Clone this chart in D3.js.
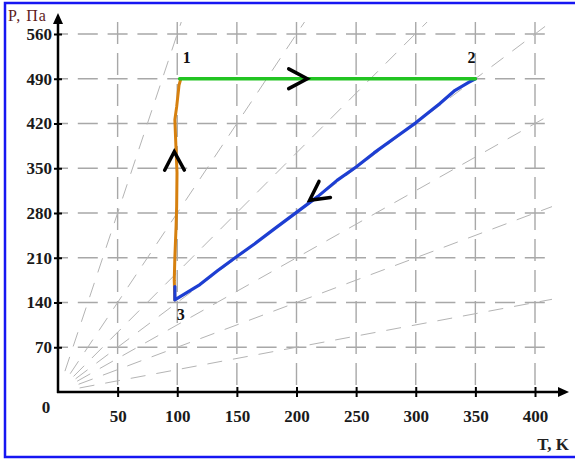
<!DOCTYPE html>
<html>
<head>
<meta charset="utf-8">
<script src="https://cdn.jsdelivr.net/npm/d3@7"></script>
<style>
  html, body { margin: 0; padding: 0; background: #fff; }
  svg { display: block; }
</style>
</head>
<body>
<svg id="chart" width="575" height="459"></svg>
<script>
// ---------- data ----------
const tTicks = [50, 100, 150, 200, 250, 300, 350, 400];
const pTicks = [70, 140, 210, 280, 350, 420, 490, 560];

// process 1 -> 2 (isobaric)
const proc12T = [102, 350];
const proc12P = [490, 490];

// process 2 -> 3 (hand-drawn, along isochore)
const proc23T = [350, 344, 333, 320, 300, 282, 265, 250, 234, 218, 200, 182, 165, 150, 134, 119, 98, 98];
const proc23P = [490, 484, 472, 451, 421, 397, 374, 352, 331, 306, 281, 256, 232, 212, 190, 168, 144, 165];

// process 3 -> 1 (hand-drawn, nearly isothermal)
const proc31T = [98, 97.5, 98, 99, 99.5, 99.8, 99, 98, 99.5, 101.5, 103];
const proc31P = [144, 175, 211, 258, 290, 343, 379, 426, 446, 480, 490];

// background isochores P = k*T
const isochoreSlopes = [5.6, 2.8, 1.87, 1.4, 1.05, 0.7, 0.35];

// state labels
const stateNames = ["1", "2", "3"];
const stateT = [102, 350, 98];
const stateP = [490, 490, 144];

// direction arrows (tip) and a point behind the tip along the path
const arrowTipT = [209, 97.5, 211];
const arrowTipP = [490, 376, 300];
const arrowFromT = [150, 98, 250];
const arrowFromP = [490, 300, 352];

// ---------- drawing ----------
const svg = d3.select("#chart");
const x = d3.scaleLinear().domain([0, 400]).range([58, 535]);
const y = d3.scaleLinear().domain([0, 560]).range([392, 34]);

const plotLeft = 58, plotRight = 552, plotTop = 22, plotBottom = y(0);
const gridColor = "#a8a8a8";

// frame
svg.append("rect")
  .attr("x", 5).attr("y", 3).attr("width", 573).attr("height", 454)
  .attr("fill", "none").attr("stroke", "#1616f2").attr("stroke-width", 2.5);

// clip for diagonal lines
svg.append("defs").append("clipPath").attr("id", "plotclip")
  .append("rect").attr("x", plotLeft).attr("y", plotTop)
  .attr("width", plotRight - plotLeft).attr("height", plotBottom - plotTop);

// grid: vertical
svg.append("g").selectAll("line").data(tTicks).join("line")
  .attr("x1", d => x(d)).attr("x2", d => x(d))
  .attr("y1", plotTop).attr("y2", plotBottom)
  .attr("stroke", gridColor).attr("stroke-width", 1.4)
  .attr("stroke-dasharray", "22,9");

// grid: horizontal
svg.append("g").selectAll("line").data(pTicks).join("line")
  .attr("x1", plotLeft).attr("x2", plotRight)
  .attr("y1", d => y(d)).attr("y2", d => y(d))
  .attr("stroke", gridColor).attr("stroke-width", 1.4)
  .attr("stroke-dasharray", "20,9.8").attr("stroke-dashoffset", 10);

// isochores
const gIso = svg.append("g").attr("clip-path", "url(#plotclip)");
isochoreSlopes.forEach(k => {
  const pxPerT = Math.hypot(x(1) - x(0), y(0) - y(k));
  const t0 = 22 / pxPerT;
  const t1 = Math.min(420, 600 / k);
  gIso.append("line")
    .attr("x1", x(t0)).attr("y1", y(k * t0))
    .attr("x2", x(t1)).attr("y2", y(k * t1))
    .attr("stroke", "#b4b4b4").attr("stroke-width", 1)
    .attr("stroke-dasharray", "15,11");
});

// axes
const fontTick = "'Liberation Serif', 'Times New Roman', serif";
const yAxis = svg.append("g").attr("transform", `translate(${x(0)},0)`)
  .call(d3.axisLeft(y).tickValues(pTicks).tickSize(4).tickPadding(2));
const xAxis = svg.append("g").attr("transform", `translate(0,${y(0)})`)
  .call(d3.axisBottom(x).tickValues(tTicks).tickSize(5).tickPadding(13));
[yAxis, xAxis].forEach(g => {
  g.select(".domain").remove();
  g.selectAll(".tick text")
    .attr("font-family", fontTick).attr("font-size", 17)
    .attr("font-weight", "bold").attr("fill", "#1a1a1a");
  g.selectAll(".tick line").attr("stroke", "#000").attr("stroke-width", 2);
});
yAxis.selectAll(".tick line").attr("x1", 4).attr("x2", -4);
xAxis.selectAll(".tick line").attr("y1", -5).attr("y2", 5);

// axis lines with arrowheads
svg.append("line").attr("x1", x(0)).attr("y1", y(0) + 1)
  .attr("x2", x(0)).attr("y2", 20)
  .attr("stroke", "#000").attr("stroke-width", 2.5);
svg.append("path").attr("d", `M${x(0)},13 L${x(0) - 5},24 L${x(0) + 5},24 Z`).attr("fill", "#000");
svg.append("line").attr("x1", x(0) - 1).attr("y1", y(0))
  .attr("x2", 562).attr("y2", y(0))
  .attr("stroke", "#000").attr("stroke-width", 2.5);
svg.append("path").attr("d", `M569,${y(0)} L558,${y(0) - 5} L558,${y(0) + 5} Z`).attr("fill", "#000");

// zero label & axis titles
svg.append("text").attr("x", 46).attr("y", 413).attr("text-anchor", "middle")
  .attr("font-family", fontTick).attr("font-size", 17).attr("font-weight", "bold")
  .attr("fill", "#1a1a1a").text("0");
svg.append("text").attr("x", 8).attr("y", 21)
  .attr("font-family", fontTick).attr("font-size", 16).attr("letter-spacing", 1)
  .attr("fill", "#5e1c1c").text("P, Па");
svg.append("text").attr("x", 569).attr("y", 450).attr("text-anchor", "end")
  .attr("font-family", fontTick).attr("font-size", 17).attr("font-weight", "bold")
  .attr("fill", "#222").text("T, K");

// process paths
const line = d3.line().x(d => x(d[0])).y(d => y(d[1]));
function drawPath(ts, ps, color, w) {
  svg.append("path").datum(d3.zip(ts, ps)).attr("d", line)
    .attr("fill", "none").attr("stroke", color).attr("stroke-width", w)
    .attr("stroke-linejoin", "round").attr("stroke-linecap", "round");
}
drawPath(proc31T, proc31P, "#d6800f", 3);
drawPath(proc23T, proc23P, "#1d3ed2", 3.2);
drawPath(proc12T, proc12P, "#22c422", 3.5);

// arrows (chevrons)
arrowTipT.forEach((t, i) => {
  const tx = x(t), ty = y(arrowTipP[i]);
  const fx = x(arrowFromT[i]), fy = y(arrowFromP[i]);
  const ang = Math.atan2(fy - ty, fx - tx); // pointing backwards
  const L = 21, a = 28 * Math.PI / 180;
  const p1 = [tx + L * Math.cos(ang + a), ty + L * Math.sin(ang + a)];
  const p2 = [tx + L * Math.cos(ang - a), ty + L * Math.sin(ang - a)];
  svg.append("path").attr("d", `M${p1[0]},${p1[1]} L${tx},${ty} L${p2[0]},${p2[1]}`)
    .attr("fill", "none").attr("stroke", "#000").attr("stroke-width", 3.5)
    .attr("stroke-linecap", "round").attr("stroke-linejoin", "miter");
});

// state labels
const labelDx = [3, -4, 2], labelDy = [-16, -16, 20];
const labelAnchor = ["start", "middle", "start"];
stateNames.forEach((s, i) => {
  svg.append("text").attr("x", x(stateT[i]) + labelDx[i]).attr("y", y(stateP[i]) + labelDy[i])
    .attr("text-anchor", labelAnchor[i])
    .attr("font-family", fontTick).attr("font-size", 16).attr("font-weight", "bold")
    .attr("fill", "#111").text(s);
});
</script>
</body>
</html>
